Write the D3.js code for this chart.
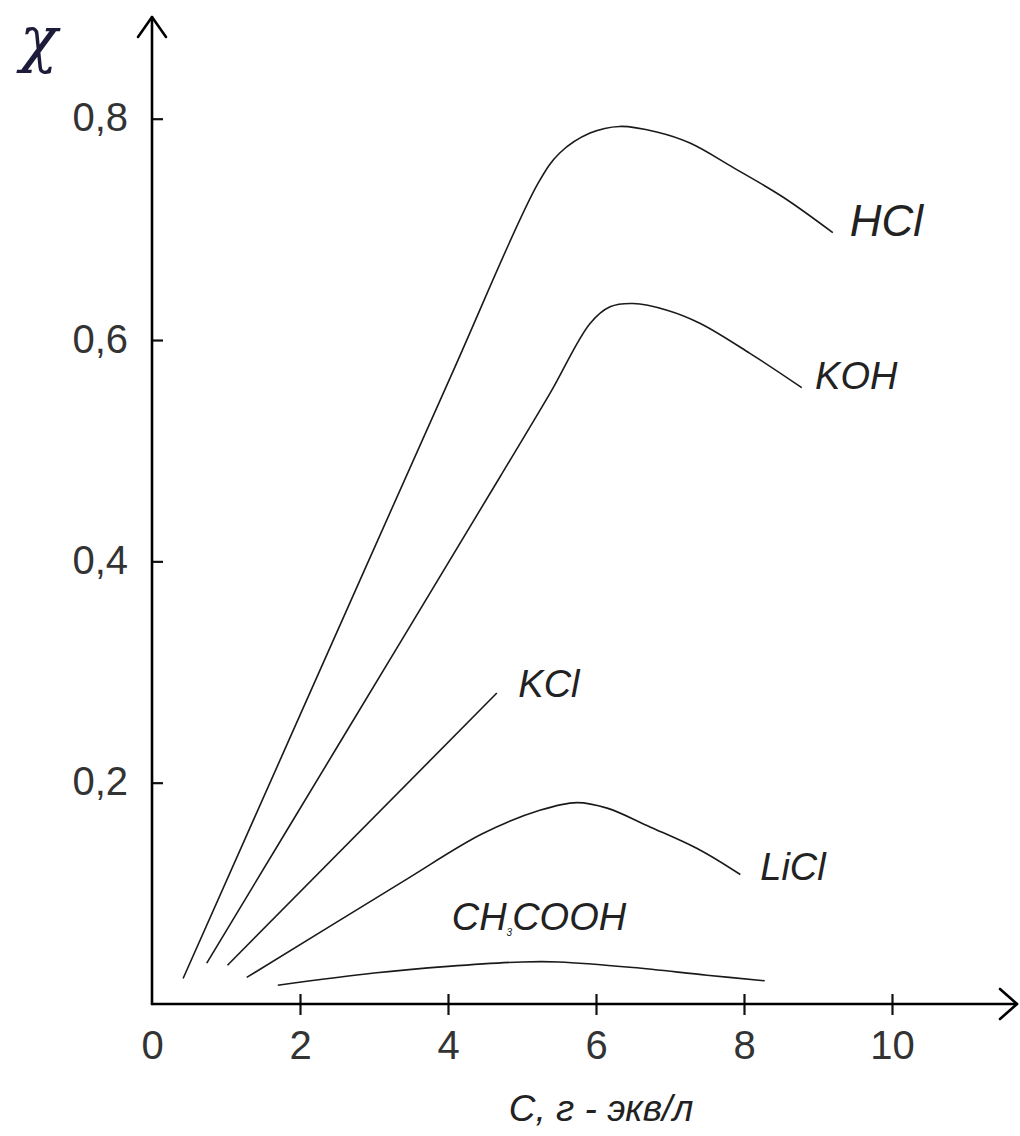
<!DOCTYPE html>
<html>
<head>
<meta charset="utf-8">
<script src="https://cdn.jsdelivr.net/npm/d3@7"></script>
<style>
  html, body { margin: 0; padding: 0; background: #fff; }
  svg { display: block; }
  .tick text { font-family: 'Liberation Sans', Arial, sans-serif; fill: #333; }
  .lbl { font-family: 'Liberation Sans', Arial, sans-serif; font-style: italic; fill: #222; }
</style>
</head>
<body>
<svg id="chart" width="1020" height="1136"></svg>
<script>
// concentration, g-eq/l  vs  specific conductivity
const hcl = [[0.42, 0.023], [2.0, 0.261], [4.03, 0.566], [5.22, 0.742], [5.51, 0.769], [5.92, 0.787], [6.32, 0.793], [6.82, 0.788], [7.27, 0.778], [7.85, 0.756], [8.53, 0.729], [9.2, 0.697]];
const koh = [[0.74, 0.037], [2.5, 0.232], [4.7, 0.476], [5.38, 0.552], [5.92, 0.615], [6.19, 0.63], [6.5, 0.633], [6.96, 0.627], [7.41, 0.615], [8.08, 0.588], [8.78, 0.557]];
const kcl = [[1.02, 0.035], [4.66, 0.281]];
const licl = [[1.28, 0.024], [3.35, 0.109], [4.47, 0.154], [5.24, 0.175], [5.74, 0.182], [6.15, 0.177], [6.73, 0.16], [7.41, 0.139], [7.95, 0.117]];
const ch3cooh = [[1.7, 0.017], [3.0, 0.028], [4.0, 0.034], [5.0, 0.038], [5.5, 0.038], [6.5, 0.033], [7.5, 0.026], [8.28, 0.021]];

const series = [hcl, koh, kcl, licl, ch3cooh];
const labelNames = ['HCl', 'KOH', 'KCl', 'LiCl', 'CH'];
const labelPos = [[9.43, 0.694], [8.96, 0.556], [4.95, 0.277], [8.22, 0.112], [4.05, 0.067]];

const xTicks = [0, 2, 4, 6, 8, 10];
const yTicks = [0.2, 0.4, 0.6, 0.8];

const svg = d3.select('#chart');

const x = d3.scaleLinear().domain([0, 10]).range([152, 892]);
const y = d3.scaleLinear().domain([0, 0.8]).range([1004, 118.7]);

const comma = d3.formatLocale({ decimal: ',', thousands: ' ', grouping: [3], currency: ['', ''] }).format('.1f');

// x axis ticks
const gx = svg.append('g')
  .attr('transform', 'translate(0,' + y(0) + ')')
  .call(d3.axisBottom(x).tickValues(xTicks).tickSize(11).tickPadding(16).tickFormat(d3.format('d')));
gx.select('.domain').remove();
gx.selectAll('.tick line').attr('y1', -10).attr('stroke', '#111').attr('stroke-width', 2.2)
  .filter(d => d === 0).remove();
gx.selectAll('.tick text').attr('font-size', 40);

// y axis ticks
const gy = svg.append('g')
  .attr('transform', 'translate(' + x(0) + ',0)')
  .call(d3.axisLeft(y).tickValues(yTicks).tickSize(12).tickPadding(12).tickFormat(comma));
gy.select('.domain').remove();
gy.selectAll('.tick line').attr('x2', 11).attr('stroke', '#111').attr('stroke-width', 2.2);
gy.selectAll('.tick text').attr('font-size', 40).attr('dy', '0.3em');

// axis lines with open arrows
const ax = svg.append('g').attr('fill', 'none').attr('stroke', '#000').attr('stroke-width', 2.6)
  .attr('stroke-linecap', 'round').attr('stroke-linejoin', 'round');
ax.append('path').attr('d', `M${x(0)},${y(0)} L${x(0)},17`);
ax.append('path').attr('d', `M${x(0) - 14},37 L${x(0)},17 L${x(0) + 14},37`);
ax.append('path').attr('d', `M${x(0)},${y(0)} L1017,${y(0)}`);
ax.append('path').attr('d', `M1000,${y(0) - 15} L1017,${y(0)} L1000,${y(0) + 15}`);

// curves
const line = d3.line().x(d => x(d[0])).y(d => y(d[1])).curve(d3.curveCatmullRom.alpha(0.5));
svg.append('g').selectAll('path').data(series).join('path')
  .attr('d', line)
  .attr('fill', 'none')
  .attr('stroke', '#1a1a1a')
  .attr('stroke-width', 1.6);

// curve labels
const lbl = svg.append('g').selectAll('text').data(labelNames).join('text')
  .attr('class', 'lbl')
  .attr('x', (d, i) => x(labelPos[i][0]))
  .attr('y', (d, i) => y(labelPos[i][1]))
  .attr('font-size', (d, i) => i === 0 ? 44 : 38)
  .text(d => d);
lbl.filter(d => d === 'CH').each(function () {
  const t = d3.select(this);
  t.append('tspan').attr('font-size', 10).attr('dy', 6).text('3');
  t.append('tspan').attr('dy', -6).text('COOH');
});

// axis titles
svg.append('text')
  .attr('x', 20).attr('y', 60)
  .attr('font-family', "'DejaVu Serif', 'Liberation Serif', serif")
  .attr('font-style', 'italic')
  .attr('font-size', 62).attr('fill', '#1c1c3a')
  .text('χ');

svg.append('text')
  .attr('class', 'lbl')
  .attr('x', 601).attr('y', 1121)
  .attr('text-anchor', 'middle')
  .attr('font-size', 37).attr('fill', '#333')
  .text('C, г - экв/л');
</script>
</body>
</html>
